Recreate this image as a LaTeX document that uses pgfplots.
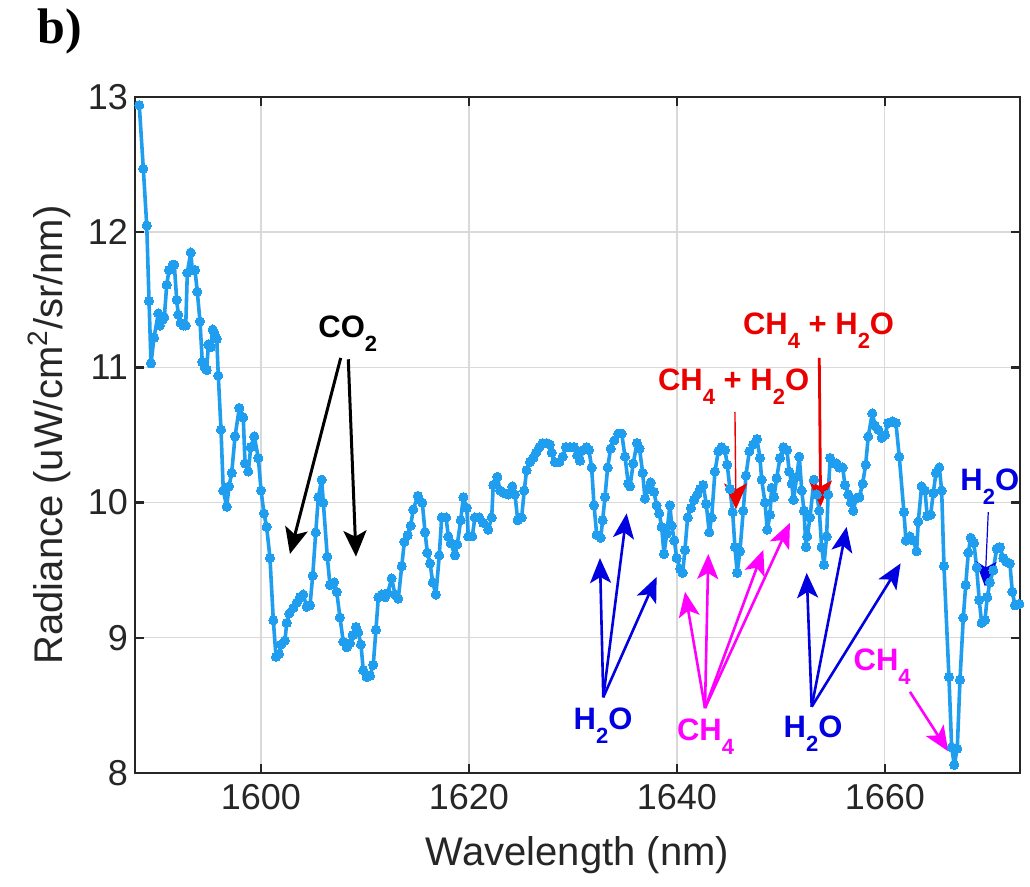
\documentclass[border=0pt]{standalone}
\usepackage{fontspec}
\setmainfont{Liberation Sans}
\newfontfamily\seriffont{Liberation Serif}
\usepackage{pgfplots}
\pgfplotsset{compat=1.18}
\usetikzlibrary{arrows.meta}

\definecolor{specblue}{RGB}{31,157,238}
\definecolor{h2oblue}{RGB}{0,0,225}
\definecolor{ch4mag}{RGB}{255,0,255}
\definecolor{annred}{RGB}{235,0,0}
\definecolor{axgray}{RGB}{38,38,38}

\newcommand{\sub}[1]{\raisebox{-7pt}{\fontsize{11}{11}\selectfont #1}}
\newcommand{\ann}{\fontsize{15.5}{16}\selectfont\bfseries}
\tikzset{bigarr/.style={-{Stealth[length=13pt,width=11.5pt,inset=3pt]}},
         midarr/.style={-{Stealth[length=12.5pt,width=10.5pt,inset=3pt]}}}

\pgfplotstableread{
x y
1588.31 12.94
1588.70 12.47
1589.03 12.05
1589.25 11.49
1589.44 11.03
1589.73 11.22
1590.14 11.40
1590.30 11.31
1590.53 11.35
1590.72 11.37
1590.95 11.61
1591.17 11.72
1591.53 11.76
1591.68 11.76
1591.91 11.50
1592.06 11.39
1592.29 11.33
1592.54 11.31
1592.78 11.31
1592.93 11.70
1593.26 11.85
1593.41 11.72
1593.67 11.72
1593.89 11.56
1594.15 11.34
1594.37 11.04
1594.60 11.00
1594.80 10.98
1594.95 11.17
1595.18 11.15
1595.37 11.28
1595.59 11.24
1595.76 11.21
1595.91 10.94
1596.17 10.54
1596.39 10.09
1596.72 9.97
1596.94 10.12
1597.20 10.22
1597.52 10.49
1597.93 10.70
1598.31 10.63
1598.48 10.29
1598.80 10.23
1599.03 10.41
1599.37 10.49
1599.76 10.33
1600.02 10.09
1600.30 9.92
1600.56 9.82
1600.88 9.59
1601.20 9.13
1601.46 8.86
1601.75 8.88
1601.94 8.95
1602.32 8.98
1602.49 9.11
1602.74 9.18
1603.12 9.22
1603.45 9.26
1603.77 9.30
1604.08 9.32
1604.41 9.23
1604.73 9.24
1604.99 9.46
1605.28 9.78
1605.53 10.04
1605.85 10.17
1606.01 10.00
1606.39 9.60
1606.65 9.39
1607.04 9.41
1607.30 9.34
1607.61 9.15
1607.93 8.97
1608.26 8.93
1608.57 8.96
1608.83 9.02
1609.15 9.08
1609.37 9.04
1609.63 8.95
1609.85 8.76
1610.18 8.71
1610.50 8.72
1610.81 8.80
1611.07 9.06
1611.30 9.30
1611.62 9.32
1611.94 9.30
1612.20 9.33
1612.58 9.44
1612.90 9.32
1613.22 9.29
1613.55 9.53
1613.80 9.71
1614.12 9.76
1614.41 9.83
1614.66 9.95
1615.10 10.05
1615.53 10.00
1615.79 9.78
1616.01 9.63
1616.27 9.55
1616.53 9.41
1616.84 9.32
1617.16 9.61
1617.39 9.89
1617.81 9.89
1618.03 9.75
1618.26 9.70
1618.67 9.61
1618.89 9.69
1619.22 9.87
1619.47 10.04
1619.80 9.96
1619.95 9.75
1620.33 9.75
1620.59 9.89
1621.01 9.89
1621.39 9.85
1621.87 9.80
1622.20 9.89
1622.35 10.13
1622.74 10.19
1623.00 10.09
1623.41 10.07
1623.80 10.06
1624.18 10.12
1624.44 10.06
1624.70 9.87
1625.08 9.89
1625.33 10.09
1625.56 10.24
1625.88 10.30
1626.20 10.33
1626.46 10.37
1626.78 10.41
1627.10 10.44
1627.49 10.44
1627.80 10.43
1627.97 10.37
1628.29 10.30
1628.70 10.30
1629.03 10.34
1629.34 10.41
1629.73 10.41
1630.11 10.41
1630.43 10.35
1630.69 10.31
1631.01 10.39
1631.33 10.41
1631.55 10.39
1631.81 10.26
1632.04 9.98
1632.30 9.76
1632.68 9.74
1632.87 9.87
1633.09 10.04
1633.35 10.26
1633.64 10.40
1633.99 10.46
1634.37 10.51
1634.70 10.51
1635.02 10.34
1635.33 10.14
1635.50 10.12
1635.81 10.29
1636.17 10.44
1636.41 10.40
1636.72 10.22
1636.94 10.03
1637.23 10.10
1637.49 10.15
1637.80 10.08
1638.06 9.98
1638.31 9.92
1638.54 9.82
1638.77 9.62
1639.03 9.77
1639.34 9.98
1639.51 9.83
1639.76 9.72
1639.99 9.59
1640.32 9.51
1640.56 9.48
1640.78 9.65
1641.04 9.89
1641.36 9.96
1641.65 10.02
1641.97 10.06
1642.23 10.10
1642.54 10.13
1642.83 9.99
1643.12 9.78
1643.35 9.89
1643.67 10.23
1643.99 10.38
1644.31 10.41
1644.63 10.39
1644.85 10.28
1645.11 10.10
1645.37 9.93
1645.59 9.67
1645.81 9.48
1646.07 9.64
1646.39 9.94
1646.65 10.20
1646.97 10.38
1647.35 10.43
1647.71 10.47
1648.00 10.33
1648.16 10.17
1648.48 10.00
1648.70 9.80
1648.96 9.91
1649.12 10.11
1649.34 10.04
1649.60 10.18
1649.92 10.33
1650.24 10.41
1650.59 10.39
1650.81 10.23
1651.05 10.14
1651.22 10.02
1651.53 10.19
1651.78 10.34
1652.01 10.09
1652.23 9.94
1652.42 9.67
1652.55 9.75
1652.81 9.89
1653.19 10.17
1653.45 10.06
1653.70 9.94
1653.93 9.67
1654.15 9.54
1654.41 9.75
1654.55 10.06
1654.75 10.33
1654.99 10.29
1655.37 10.29
1655.62 10.26
1655.95 10.26
1656.17 10.13
1656.49 10.06
1656.75 10.00
1656.97 9.94
1657.23 10.03
1657.55 10.04
1657.87 10.14
1658.16 10.28
1658.41 10.49
1658.80 10.66
1659.06 10.57
1659.37 10.54
1659.70 10.48
1660.02 10.50
1660.33 10.59
1660.76 10.60
1661.07 10.59
1661.39 10.34
1661.84 9.93
1662.03 9.72
1662.42 9.75
1662.74 9.72
1663.06 9.64
1663.22 9.86
1663.54 10.12
1663.86 10.09
1664.08 9.90
1664.41 9.91
1664.66 10.07
1664.92 10.22
1665.24 10.26
1665.47 10.09
1665.69 9.53
1666.17 8.71
1666.43 8.19
1666.68 8.06
1666.97 8.18
1667.23 8.69
1667.55 9.15
1667.78 9.39
1668.03 9.63
1668.26 9.74
1668.57 9.70
1668.83 9.52
1669.08 9.28
1669.31 9.11
1669.63 9.13
1669.85 9.30
1670.11 9.41
1670.43 9.50
1670.76 9.66
1671.07 9.67
1671.39 9.59
1671.72 9.56
1672.03 9.55
1672.26 9.34
1672.52 9.24
1672.93 9.25
}\spectrum

\begin{document}
\begin{tikzpicture}
\useasboundingbox (-67.5pt,-57pt) rectangle (447.5pt,386.5pt);
\begin{axis}[
  scale only axis, width=442.5pt, height=338pt,
  at={(0,0)}, anchor=south west,
  xmin=1587.9, xmax=1673, ymin=8, ymax=13,
  xtick={1600,1620,1640,1660}, ytick={8,9,10,11,12,13},
  grid=major, grid style={color=black!15, line width=0.7pt},
  axis line style={color=axgray, line width=1.2pt},
  tick style={color=axgray, line width=1.2pt},
  tick align=inside, major tick length=4.5pt,
  /pgf/number format/assume math mode=true,
  /pgf/number format/1000 sep={},
  tick label style={font=\fontsize{18}{18}\selectfont, color=axgray},
  xticklabel style={yshift=-2pt},
  label style={font=\fontsize{20}{20}\selectfont, color=axgray},
  xlabel={Wavelength (nm)},
  ylabel={Radiance (uW/cm\textsuperscript{2}/sr/nm)},
  xlabel style={at={(axis description cs:0.5,-0.122)}, anchor=center},
  ylabel style={at={(axis description cs:-0.097,0.5)}, anchor=center},
  clip=true,
]
\addplot[color=specblue, line width=1.8pt, line join=round, line cap=round,
  mark=*, mark size=2.3pt,
  mark options={fill=specblue, draw=specblue, line width=0pt}] table[x=x, y=y] {\spectrum};

% CO2
\node[anchor=base west, inner sep=0pt, black] at (axis cs:1605.50,11.22) {\ann CO\sub{2}};
\draw[black, line width=1.5pt, bigarr] (axis cs:1607.68,11.07) -- (axis cs:1602.80,9.62);
\draw[black, line width=1.5pt, bigarr] (axis cs:1608.41,11.06) -- (axis cs:1609.15,9.60);

% red
\node[anchor=base west, inner sep=0pt, annred] at (axis cs:1646.33,11.24) {\ann CH\sub{4} + H\sub{2}O};
\draw[annred, line width=1.4pt, bigarr] (axis cs:1653.70,11.07) -- (axis cs:1653.83,9.97);
\node[anchor=base west, inner sep=0pt, annred] at (axis cs:1638.16,10.83) {\ann CH\sub{4} + H\sub{2}O};
\draw[annred, line width=0.7pt, bigarr] (axis cs:1645.59,10.67) -- (axis cs:1645.69,9.95);

% H2O group 1
\node[anchor=base west, inner sep=0pt, h2oblue] at (axis cs:1630.05,8.32) {\ann H\sub{2}O};
\draw[h2oblue, line width=1.3pt, midarr] (axis cs:1632.93,8.56) -- (axis cs:1632.61,9.59);
\draw[h2oblue, line width=1.3pt, midarr] (axis cs:1632.93,8.56) -- (axis cs:1635.18,9.92);
\draw[h2oblue, line width=1.3pt, midarr] (axis cs:1632.93,8.56) -- (axis cs:1638.06,9.45);
% CH4 group
\node[anchor=base west, inner sep=0pt, ch4mag] at (axis cs:1639.99,8.24) {\ann CH\sub{4}};
\draw[ch4mag, line width=1.3pt, midarr] (axis cs:1642.71,8.48) -- (axis cs:1640.79,9.34);
\draw[ch4mag, line width=1.3pt, midarr] (axis cs:1642.71,8.48) -- (axis cs:1643.03,9.62);
\draw[ch4mag, line width=1.3pt, midarr] (axis cs:1642.71,8.48) -- (axis cs:1648.32,9.65);
\draw[ch4mag, line width=1.3pt, midarr] (axis cs:1642.71,8.48) -- (axis cs:1650.88,9.85);
% H2O group 2
\node[anchor=base west, inner sep=0pt, h2oblue] at (axis cs:1650.24,8.26) {\ann H\sub{2}O};
\draw[h2oblue, line width=1.3pt, midarr] (axis cs:1652.97,8.49) -- (axis cs:1652.49,9.48);
\draw[h2oblue, line width=1.3pt, midarr] (axis cs:1652.97,8.49) -- (axis cs:1656.33,9.82);
\draw[h2oblue, line width=1.3pt, midarr] (axis cs:1652.97,8.49) -- (axis cs:1661.52,9.55);
% CH4 right
\node[anchor=base west, inner sep=0pt, ch4mag] at (axis cs:1656.97,8.76) {\ann CH\sub{4}};
\draw[ch4mag, line width=1.3pt, midarr] (axis cs:1662.42,8.60) -- (axis cs:1666.10,8.16);
% H2O right
\node[anchor=base west, inner sep=0pt, h2oblue] at (axis cs:1667.23,10.09) {\ann H\sub{2}O};
\draw[h2oblue, line width=0.6pt, midarr] (axis cs:1669.95,9.93) -- (axis cs:1669.63,9.38);
\end{axis}
\node[anchor=north west, inner sep=0pt] at (-49pt,382.5pt) {\seriffont\bfseries\fontsize{25}{25}\selectfont b)};
\end{tikzpicture}
\end{document}
